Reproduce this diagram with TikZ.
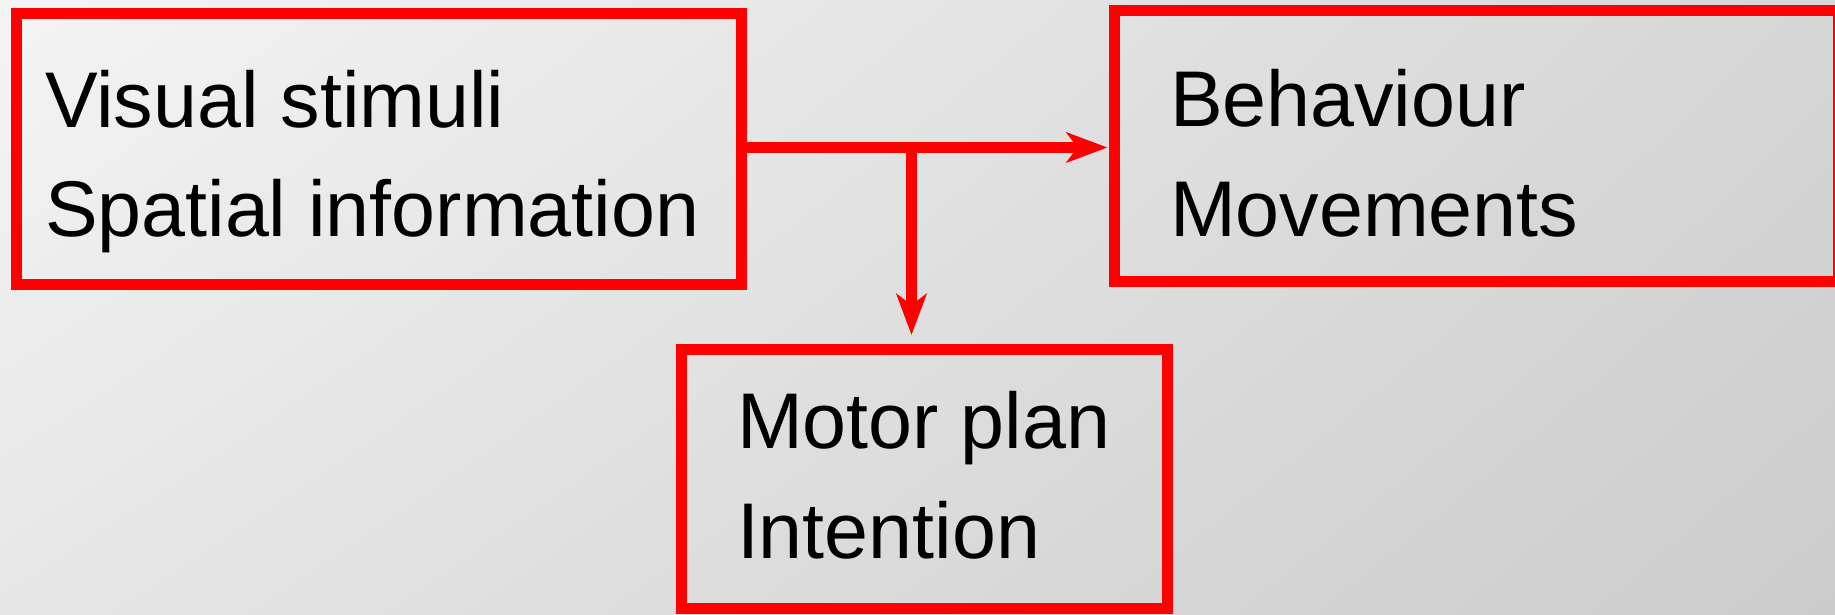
\documentclass[tikz,border=0pt]{standalone}
\usepackage{fontspec}
\setmainfont{Liberation Sans}
\usetikzlibrary{arrows.meta,shadings}
\definecolor{bgtl}{HTML}{F4F4F4}
\definecolor{bgtr}{HTML}{D6D6D6}
\definecolor{bgbl}{HTML}{E6E6E6}
\definecolor{bgbr}{HTML}{CCCCCC}
\definecolor{boxred}{HTML}{FF0000}
\tikzset{
  redbox/.style={draw=boxred, line width=11pt, inner sep=0pt, outer sep=0pt},
  lbl/.style={anchor=base west, inner sep=0pt, outer sep=0pt, font=\fontsize{79}{110}\selectfont, text=black},
  redarrow/.style={draw=boxred, line width=11pt, -{Stealth[length=41pt, width=30pt, inset=11pt]}}
}
\begin{document}
\begin{tikzpicture}[x=1pt, y=-1pt]
\useasboundingbox (0,0) rectangle (1835,614);
\clip (0,0) rectangle (1835,614);
\shade[upper left=bgtl, upper right=bgtr, lower left=bgbl, lower right=bgbr] (0,0) rectangle (1835,614);
% boxes
\node[redbox, minimum width=725pt, minimum height=270.5pt] (v) at (378.5,148.75) {};
\node[redbox, minimum width=724pt, minimum height=271pt] (b) at (1476,146) {};
\node[redbox, minimum width=486pt, minimum height=259pt] (m) at (924.5,479) {};
% texts
\node[lbl] (v1) at (45,127) {Visual stimuli};
\node[lbl] (v2) at (45,236) {Spatial information};
\node[lbl] (b1) at (1170,126) {Behaviour};
\node[lbl] (b2) at (1170,236) {Movements};
\node[lbl] (m1) at (737,448) {Motor plan};
\node[lbl] (m2) at (737,558) {Intention};
% connectors
\coordinate (j) at (911.5,147.5);
\draw[redarrow, shorten >=6.5pt] (v.east |- j) -- (b.west |- j);
\draw[redarrow, shorten >=14.5pt] (j) -- (j |- m.north);
\end{tikzpicture}
\end{document}
